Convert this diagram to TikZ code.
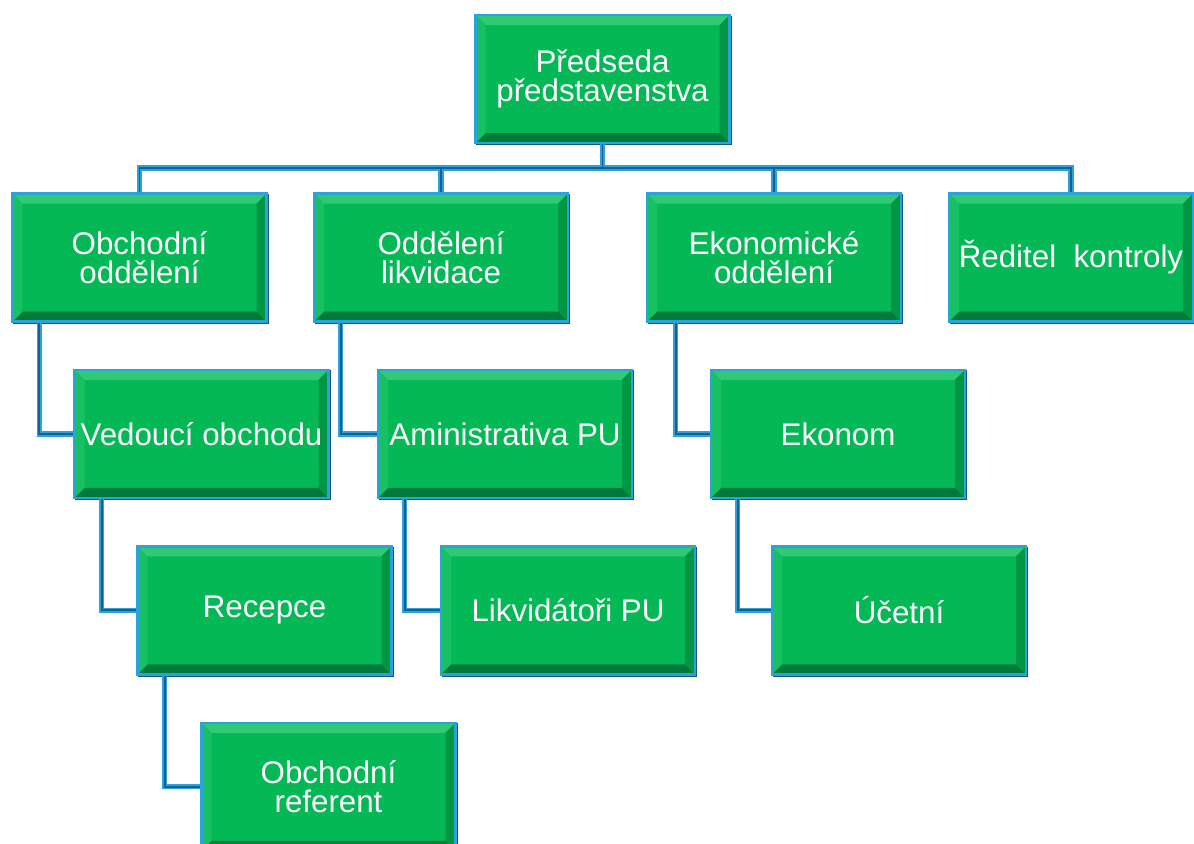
\documentclass[tikz,border=0pt]{standalone}
\usepackage{fontspec}
\setmainfont{Liberation Sans}
\usepackage{tikz}
\usetikzlibrary{positioning}

\definecolor{boxgreen}{RGB}{4,184,86}
\definecolor{bevtop}{RGB}{48,202,116}
\definecolor{bevleft}{RGB}{24,192,100}
\definecolor{bevbottom}{RGB}{0,122,56}
\definecolor{bevright}{RGB}{0,150,68}
\definecolor{edgeblue}{RGB}{42,162,220}
\definecolor{edgedark}{RGB}{22,88,128}
\definecolor{linkdark}{RGB}{26,96,142}

\tikzset{
	orgbox/.style = {rectangle, minimum width=5.08cm, minimum height=2.56cm,
		inner sep=2pt, align=center, text=white,
		font=\fontsize{17.8}{16.5}\selectfont,
		fill=boxgreen, draw=edgeblue, line width=1.4pt,
		path picture={
			\fill[bevtop] (path picture bounding box.north west) -- (path picture bounding box.north east)
				-- ([shift={(-0.2,-0.2)}]path picture bounding box.north east) -- ([shift={(0.2,-0.2)}]path picture bounding box.north west) -- cycle;
			\fill[bevbottom] (path picture bounding box.south west) -- (path picture bounding box.south east)
				-- ([shift={(-0.2,0.2)}]path picture bounding box.south east) -- ([shift={(0.2,0.2)}]path picture bounding box.south west) -- cycle;
			\fill[bevleft] (path picture bounding box.north west) -- (path picture bounding box.south west)
				-- ([shift={(0.2,0.2)}]path picture bounding box.south west) -- ([shift={(0.2,-0.2)}]path picture bounding box.north west) -- cycle;
			\fill[bevright] (path picture bounding box.north east) -- (path picture bounding box.south east)
				-- ([shift={(-0.2,0.2)}]path picture bounding box.south east) -- ([shift={(-0.2,-0.2)}]path picture bounding box.north east) -- cycle;
		},
		append after command={\pgfextra{
			\draw[edgedark, line width=1.4pt] ([yshift=-1pt]\tikzlastnode.north east) -- (\tikzlastnode.south east) -- ([xshift=1pt]\tikzlastnode.south west);
		}}},
	link/.style = {draw=edgeblue, double=linkdark, double distance=1.1pt, line width=0.9pt},
}

\begin{document}
\begin{tikzpicture}[node distance = 0.92cm]
	\useasboundingbox (0,0) rectangle (23.88,-16.86);

	\node (pred) [orgbox] at (12.05,-1.58) {Předseda\\představenstva};

	\node (obch) [orgbox] at (2.79,-5.15) {Obchodní\\oddělení};
	\node (likv) [orgbox] at (8.82,-5.15) {Oddělení\\likvidace};
	\node (ekon) [orgbox] at (15.48,-5.15) {Ekonomické\\oddělení};
	\node (kontr) [orgbox, minimum width=4.88cm] at (21.42,-5.15) {Ředitel\ \ kontroly};

	\node (ved) [orgbox, below = of obch, xshift=1.24cm] {Vedoucí obchodu};
	\node (rec) [orgbox, below = of ved, xshift=1.26cm] {Recepce};
	\node (ref) [orgbox, below = of rec, xshift=1.28cm] {Obchodní\\referent};

	\node (admin) [orgbox, below = of likv, xshift=1.28cm] {Aministrativa PU};
	\node (likvid) [orgbox, below = of admin, xshift=1.26cm] {Likvidátoři PU};

	\node (ekonom) [orgbox, below = of ekon, xshift=1.28cm] {Ekonom};
	\node (ucet) [orgbox, below = of ekonom, xshift=1.22cm] {Účetní};

	\coordinate (bus) at (0,-3.36);

\path [link]
	(obch.north) -- (obch.north |- bus) -- (kontr.north |- bus) -- (kontr.north)
	(pred.south) -- (pred.south |- bus)
	(likv.north |- bus) -- (likv.north)
	(ekon.north |- bus) -- (ekon.north);

\path [link]
	([xshift=0.56cm]obch.south west) |- (ved.west)
	([xshift=0.57cm]ved.south west) |- (rec.west)
	([xshift=0.57cm]rec.south west) |- (ref.west)
	([xshift=0.56cm]likv.south west) |- (admin.west)
	([xshift=0.56cm]admin.south west) |- (likvid.west)
	([xshift=0.6cm]ekon.south west) |- (ekonom.west)
	([xshift=0.56cm]ekonom.south west) |- (ucet.west);
\end{tikzpicture}
\end{document}
